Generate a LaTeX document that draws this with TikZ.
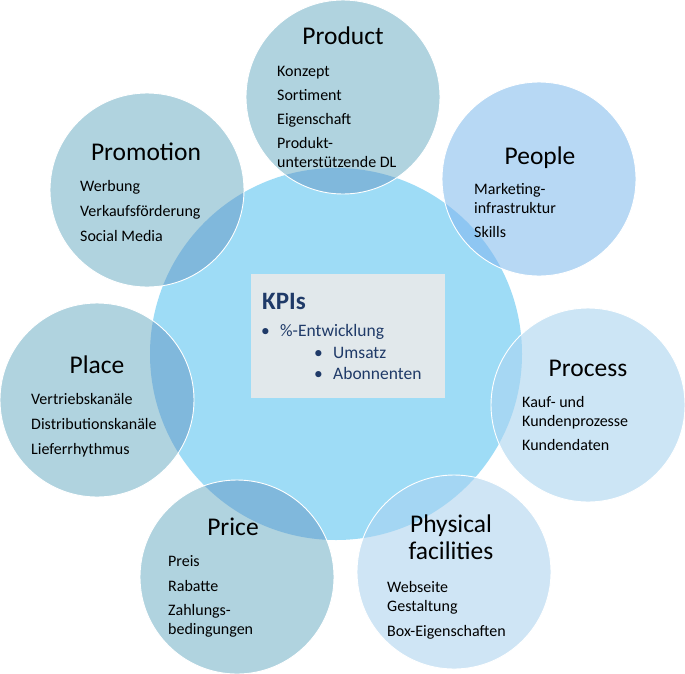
\documentclass[tikz,border=0pt]{standalone}
\usepackage{fontspec}
\setmainfont{Carlito}
\definecolor{bigc}{HTML}{9EDCF6}
\definecolor{greyc}{HTML}{B0D3DF}
\definecolor{peoplec}{HTML}{B7D8F4}
\definecolor{procc}{HTML}{CCE5F5}
\definecolor{physc}{HTML}{CFE5F5}
\definecolor{ovgrey}{HTML}{80B8DC}
\definecolor{ovpeople}{HTML}{8EC6F2}
\definecolor{ovproc}{HTML}{A6D7F3}
\definecolor{ovphys}{HTML}{A4D6F3}
\definecolor{boxc}{HTML}{E1E8EB}
\definecolor{navy}{HTML}{1F3A68}
\tikzset{
  ttl/.style={font=\fontsize{25.5}{30}\selectfont, inner sep=0pt, text height=17pt, text depth=5pt, yshift=-2pt},
  itm/.style={font=\fontsize{16}{19}\selectfont, anchor=west, inner sep=0pt, text height=11pt, text depth=3.5pt, yshift=-2pt},
  kpi/.style={font=\fontsize{17.5}{21}\selectfont, anchor=west, inner sep=0pt, text height=12pt, text depth=4pt, text=navy, yshift=-2pt},
  rim/.style={draw=white, line width=0.9pt},
}
\newcommand{\mybigcirclepath}{(336pt,-354pt) circle[radius=186pt]}
\begin{document}
\begin{tikzpicture}[x=1pt,y=-1pt]
\useasboundingbox (0,0) rectangle (685,673);
% big circle
\fill[bigc] \mybigcirclepath;
% small circles: fill, overlap, rim
\foreach \cx/\cy/\col/\ov in {343/97/greyc/ovgrey, 539/179/peoplec/ovpeople, 588/405/procc/ovproc, 454/572/physc/ovphys, 237/577/greyc/ovgrey, 97/400/greyc/ovgrey, 147/190/greyc/ovgrey}{
  \fill[\col] (\cx,\cy) circle[radius=97pt];
  \begin{scope}
    \clip \mybigcirclepath;
    \fill[\ov] (\cx,\cy) circle[radius=97pt];
  \end{scope}
  \draw[rim] (\cx,\cy) circle[radius=97pt];
}
% KPI box
\node[fill=boxc, minimum width=194pt, minimum height=124pt, inner sep=0pt, anchor=north west] (kpibox) at (251,274) {};
\node[font=\bfseries\fontsize{25}{30}\selectfont, text=navy, anchor=west, inner sep=0pt, text height=17pt, text depth=5pt, yshift=-2pt] (kpis) at (262,301) {KPIs};
\node[kpi] (b1) at (261,330) {•};
\node[kpi] (k1) at (280,330) {\%-Entwicklung};
\node[kpi] (b2) at (314,352) {•};
\node[kpi] (k2) at (333,352) {Umsatz};
\node[kpi] (b3) at (314,373) {•};
\node[kpi] (k3) at (333,373) {Abonnenten};
% Product
\node[ttl] (tprod) at (343,36) {Product};
\node[itm] (p1) at (277,71) {Konzept};
\node[itm] (p2) at (277,95) {Sortiment};
\node[itm] (p3) at (277,119) {Eigenschaft};
\node[itm] (p4) at (277,143) {Produkt-};
\node[itm] (p5) at (277,162) {unterstützende DL};
% People
\node[ttl] (tpeop) at (540,156) {People};
\node[itm] (q1) at (474,189) {Marketing-};
\node[itm] (q2) at (474,208) {infrastruktur};
\node[itm] (q3) at (474,232) {Skills};
% Promotion
\node[ttl] (tprom) at (146,152) {Promotion};
\node[itm] (r1) at (80,186) {Werbung};
\node[itm] (r2) at (80,211) {Verkaufsförderung};
\node[itm] (r3) at (80,236) {Social Media};
% Place
\node[ttl] (tplace) at (97,365) {Place};
\node[itm] (s1) at (31,399) {Vertriebskanäle};
\node[itm] (s2) at (31,424) {Distributionskanäle};
\node[itm] (s3) at (31,449) {Lieferrhythmus};
% Price
\node[ttl] (tprice) at (233,527) {Price};
\node[itm] (u1) at (168,561) {Preis};
\node[itm] (u2) at (168,586) {Rabatte};
\node[itm] (u3) at (168,610) {Zahlungs-};
\node[itm] (u4) at (168,629) {bedingungen};
% Process
\node[ttl] (tproc) at (588,368) {Process};
\node[itm] (v1) at (522,402) {Kauf- und};
\node[itm] (v2) at (522,421) {Kundenprozesse};
\node[itm] (v3) at (522,445) {Kundendaten};
% Physical facilities
\node[ttl] (tphys1) at (451,524) {Physical};
\node[ttl] (tphys2) at (451,551) {facilities};
\node[itm] (w1) at (387,587) {Webseite};
\node[itm] (w2) at (387,606) {Gestaltung};
\node[itm] (w3) at (387,631) {Box-Eigenschaften};
\end{tikzpicture}
\end{document}
